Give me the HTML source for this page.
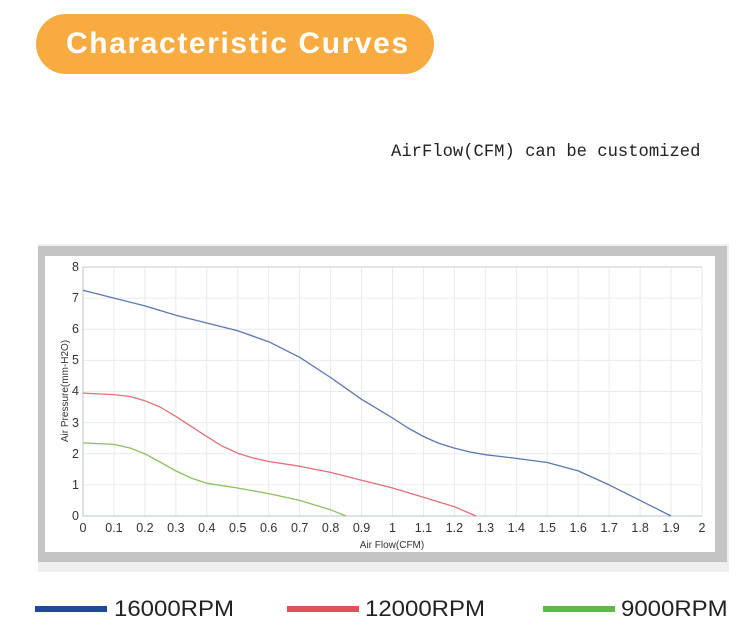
<!DOCTYPE html>
<html><head><meta charset="utf-8"><style>
body{margin:0;width:753px;height:639px;background:#fff;overflow:hidden;position:relative;font-family:"Liberation Sans",sans-serif}
.pill{position:absolute;left:36px;top:14px;width:398px;height:60px;border-radius:30px;background:#F7AB40;color:#fff;font-weight:bold;font-size:30px;line-height:60px;text-indent:30px;letter-spacing:1.6px}
.note{position:absolute;left:391px;top:143px;font-family:"Liberation Mono",monospace;font-size:17.2px;color:#222}
.leg{position:absolute;top:597px;font-size:22px;color:#222;line-height:24px;transform:scaleX(1.09);transform-origin:left}
.bar{position:absolute;top:606px;height:6px;width:72px}
</style></head><body>
<div class="pill">Characteristic Curves</div>
<div class="note">AirFlow(CFM) can be customized</div>
<svg width="753" height="639" style="position:absolute;left:0;top:0" font-family="Liberation Sans, sans-serif">
<rect x="38" y="244" width="691" height="328" fill="#efefef"/>
<rect x="38" y="246" width="689" height="316" fill="#c4c4c4"/>
<rect x="45" y="256" width="670" height="296" fill="#fff"/>
<g stroke="#e6ebf0" stroke-width="1">
<path d="M113.95 267V516M144.9 267V516M175.85 267V516M206.8 267V516M237.75 267V516M268.7 267V516M299.65 267V516M330.6 267V516M361.55 267V516M392.5 267V516M423.45 267V516M454.4 267V516M485.35 267V516M516.3 267V516M547.25 267V516M578.2 267V516M609.15 267V516M640.1 267V516M671.05 267V516M702 267V516"/>
<path d="M83 484.9H702M83 453.75H702M83 422.6H702M83 391.5H702M83 360.4H702M83 329.25H702M83 298.1H702"/>
</g>
<path d="M83 267H702" stroke="#c8ccd0"/>
<path d="M83 267V516H702" stroke="#b8c4d0" fill="none"/>
<g fill="none" stroke-width="1.3" stroke-linejoin="round">
<polyline stroke="#5a78b0" points="83,290.3 113.95,298.1 144.9,305.9 175.85,315.2 206.8,323.0 237.75,330.8 268.7,341.7 299.65,357.3 330.6,377.5 361.55,399.3 392.5,418.0 408,428 423.45,436.5 438,443 454.4,448.1 470,452 485.35,454.7 516.3,458.4 547.25,462.5 578.2,470.9 609.15,484.9 640.1,500.4 671.05,516"/>
<polyline stroke="#e0707a" points="83,393.1 113.95,394.6 130,396.5 144.9,400.8 160,407 175.85,416.4 206.8,436.6 222,446 237.75,453.2 253,458 268.7,461.5 299.65,466.2 330.6,472.4 361.55,480.2 392.5,488.0 423.45,497.3 454.4,506.7 476,516"/>
<polyline stroke="#8cc060" points="83,442.9 113.95,444.4 130,448 144.9,453.8 160,462 175.85,470.9 191,478 206.8,483.3 237.75,488.0 268.7,493.6 299.65,500.4 330.6,509.8 346,516"/>
</g>
<g font-size="12.5" fill="#333" text-anchor="end">
<text x="79" y="271">8</text><text x="79" y="302">7</text><text x="79" y="333">6</text><text x="79" y="364">5</text><text x="79" y="395">4</text><text x="79" y="427">3</text><text x="79" y="458">2</text><text x="79" y="489">1</text><text x="79" y="520">0</text>
</g>
<g font-size="12.5" fill="#333" text-anchor="middle">
<text x="83" y="532">0</text><text x="113.95" y="532">0.1</text><text x="144.9" y="532">0.2</text><text x="175.85" y="532">0.3</text><text x="206.8" y="532">0.4</text><text x="237.75" y="532">0.5</text><text x="268.7" y="532">0.6</text><text x="299.65" y="532">0.7</text><text x="330.6" y="532">0.8</text><text x="361.55" y="532">0.9</text><text x="392.5" y="532">1</text><text x="423.45" y="532">1.1</text><text x="454.4" y="532">1.2</text><text x="485.35" y="532">1.3</text><text x="516.3" y="532">1.4</text><text x="547.25" y="532">1.5</text><text x="578.2" y="532">1.6</text><text x="609.15" y="532">1.7</text><text x="640.1" y="532">1.8</text><text x="671.05" y="532">1.9</text><text x="702" y="532">2</text>
<text x="392" y="548" font-size="10">Air Flow(CFM)</text>
<text transform="translate(68,391) rotate(-90)" font-size="10">Air Pressure(mm-H2O)</text>
</g>
</svg>
<div class="bar" style="left:35px;background:#1f4a9a"></div><div class="leg" style="left:114px">16000RPM</div>
<div class="bar" style="left:287px;background:#e05058"></div><div class="leg" style="left:365px">12000RPM</div>
<div class="bar" style="left:543px;background:#5cb84a"></div><div class="leg" style="left:621px">9000RPM</div>
</body></html>
